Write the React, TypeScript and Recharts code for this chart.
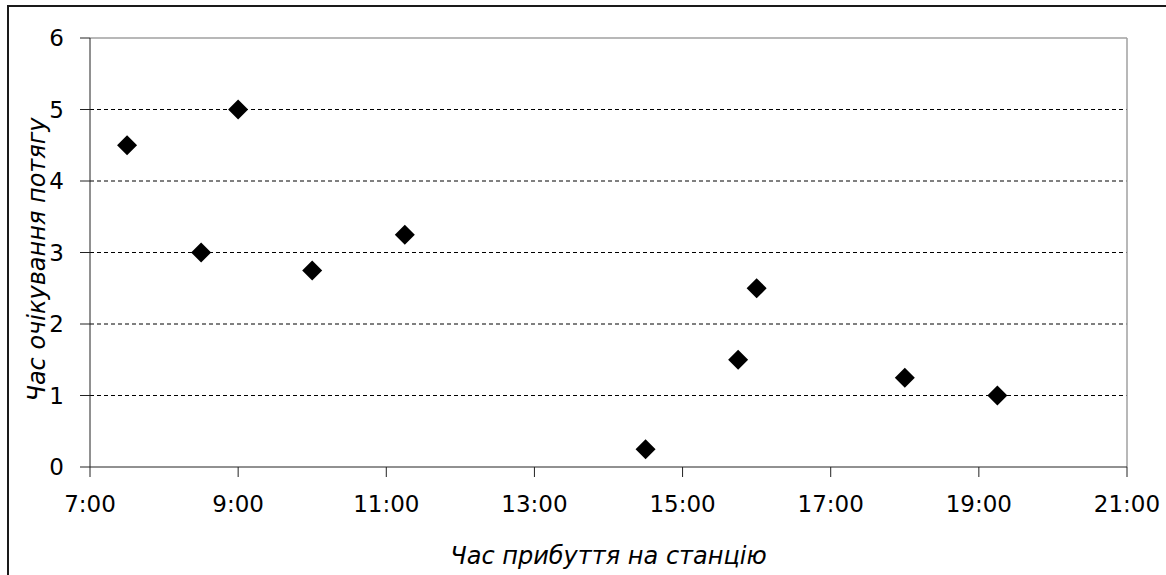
import {
  ScatterChart,
  Scatter,
  XAxis,
  YAxis,
  CartesianGrid,
  ReferenceLine,
  Label,
} from "recharts";

// arrival hour at the station and how long the wait for the train was
const arrivalHours = [7.5, 8.5, 9, 10, 11.25, 14.5, 15.75, 16, 18, 19.25];
const waitHours = [4.5, 3, 5, 2.75, 3.25, 0.25, 1.5, 2.5, 1.25, 1];

const xTicks = [7, 9, 11, 13, 15, 17, 19, 21];
const yTicks = [0, 1, 2, 3, 4, 5, 6];

const xTitle = "Час прибуття на станцію";
const yTitle = "Час очікування потягу";

const FONT = "'DejaVu Sans', Verdana, sans-serif";

const points = arrivalHours.map((x, i) => ({ x, y: waitHours[i] }));

// square marker turned by 45 degrees
const Diamond = (props: any) => {
  const { cx, cy } = props;
  const r = 10;
  return (
    <polygon
      points={`${cx},${cy - r} ${cx + r},${cy} ${cx},${cy + r} ${cx - r},${cy}`}
      fill="#000"
    />
  );
};

const tickStyle = { fontSize: 23, fill: "#000", fontFamily: FONT };
const titleStyle = { fontSize: 24, fontStyle: "italic", fill: "#000", fontFamily: FONT };

const YTitle = (props: any) => {
  const { viewBox } = props;
  const x = 37;
  const y = viewBox.y + viewBox.height / 2 + 7;
  return (
    <text
      x={x}
      y={y}
      transform={`rotate(-90, ${x}, ${y})`}
      textAnchor="middle"
      dominantBaseline="central"
      style={titleStyle}
    >
      {yTitle}
    </text>
  );
};

const App = () => {
  return (
    <div
      style={{
        position: "absolute",
        left: 0,
        top: 0,
        width: 1166,
        height: 575,
        overflow: "hidden",
        background: "#fff",
      }}
    >
      <div
        style={{
          position: "absolute",
          left: 7,
          top: 5,
          width: 1200,
          height: 620,
          borderTop: "2px solid #1a1a1a",
          borderLeft: "2px solid #1a1a1a",
        }}
      />
      <ScatterChart
        width={1166}
        height={575}
        margin={{ top: 38, right: 39, bottom: 68, left: 30 }}
        style={{ position: "absolute", left: 0, top: 0 }}
      >
        <CartesianGrid
          vertical={false}
          stroke="#000"
          strokeDasharray="4 3"
          horizontalValues={[1, 2, 3, 4, 5]}
        />
        <ReferenceLine y={6} stroke="#a0a0a0" strokeWidth={1.5} />
        <ReferenceLine x={21} stroke="#a0a0a0" strokeWidth={1.5} />
        <XAxis
          type="number"
          dataKey="x"
          domain={[7, 21]}
          ticks={xTicks}
          tickFormatter={(h: number) => `${h}:00`}
          interval={0}
          height={40}
          stroke="#222"
          tickSize={10}
          tickMargin={19}
          tick={tickStyle}
        >
          <Label value={xTitle} position="bottom" offset={40} style={titleStyle} />
        </XAxis>
        <YAxis
          type="number"
          dataKey="y"
          domain={[0, 6]}
          ticks={yTicks}
          interval={0}
          width={60}
          stroke="#222"
          tickSize={10}
          tickMargin={16}
          tick={tickStyle}
        >
          <Label content={YTitle} />
        </YAxis>
        <Scatter data={points} shape={Diamond} isAnimationActive={false} />
      </ScatterChart>
    </div>
  );
};

export default App;
